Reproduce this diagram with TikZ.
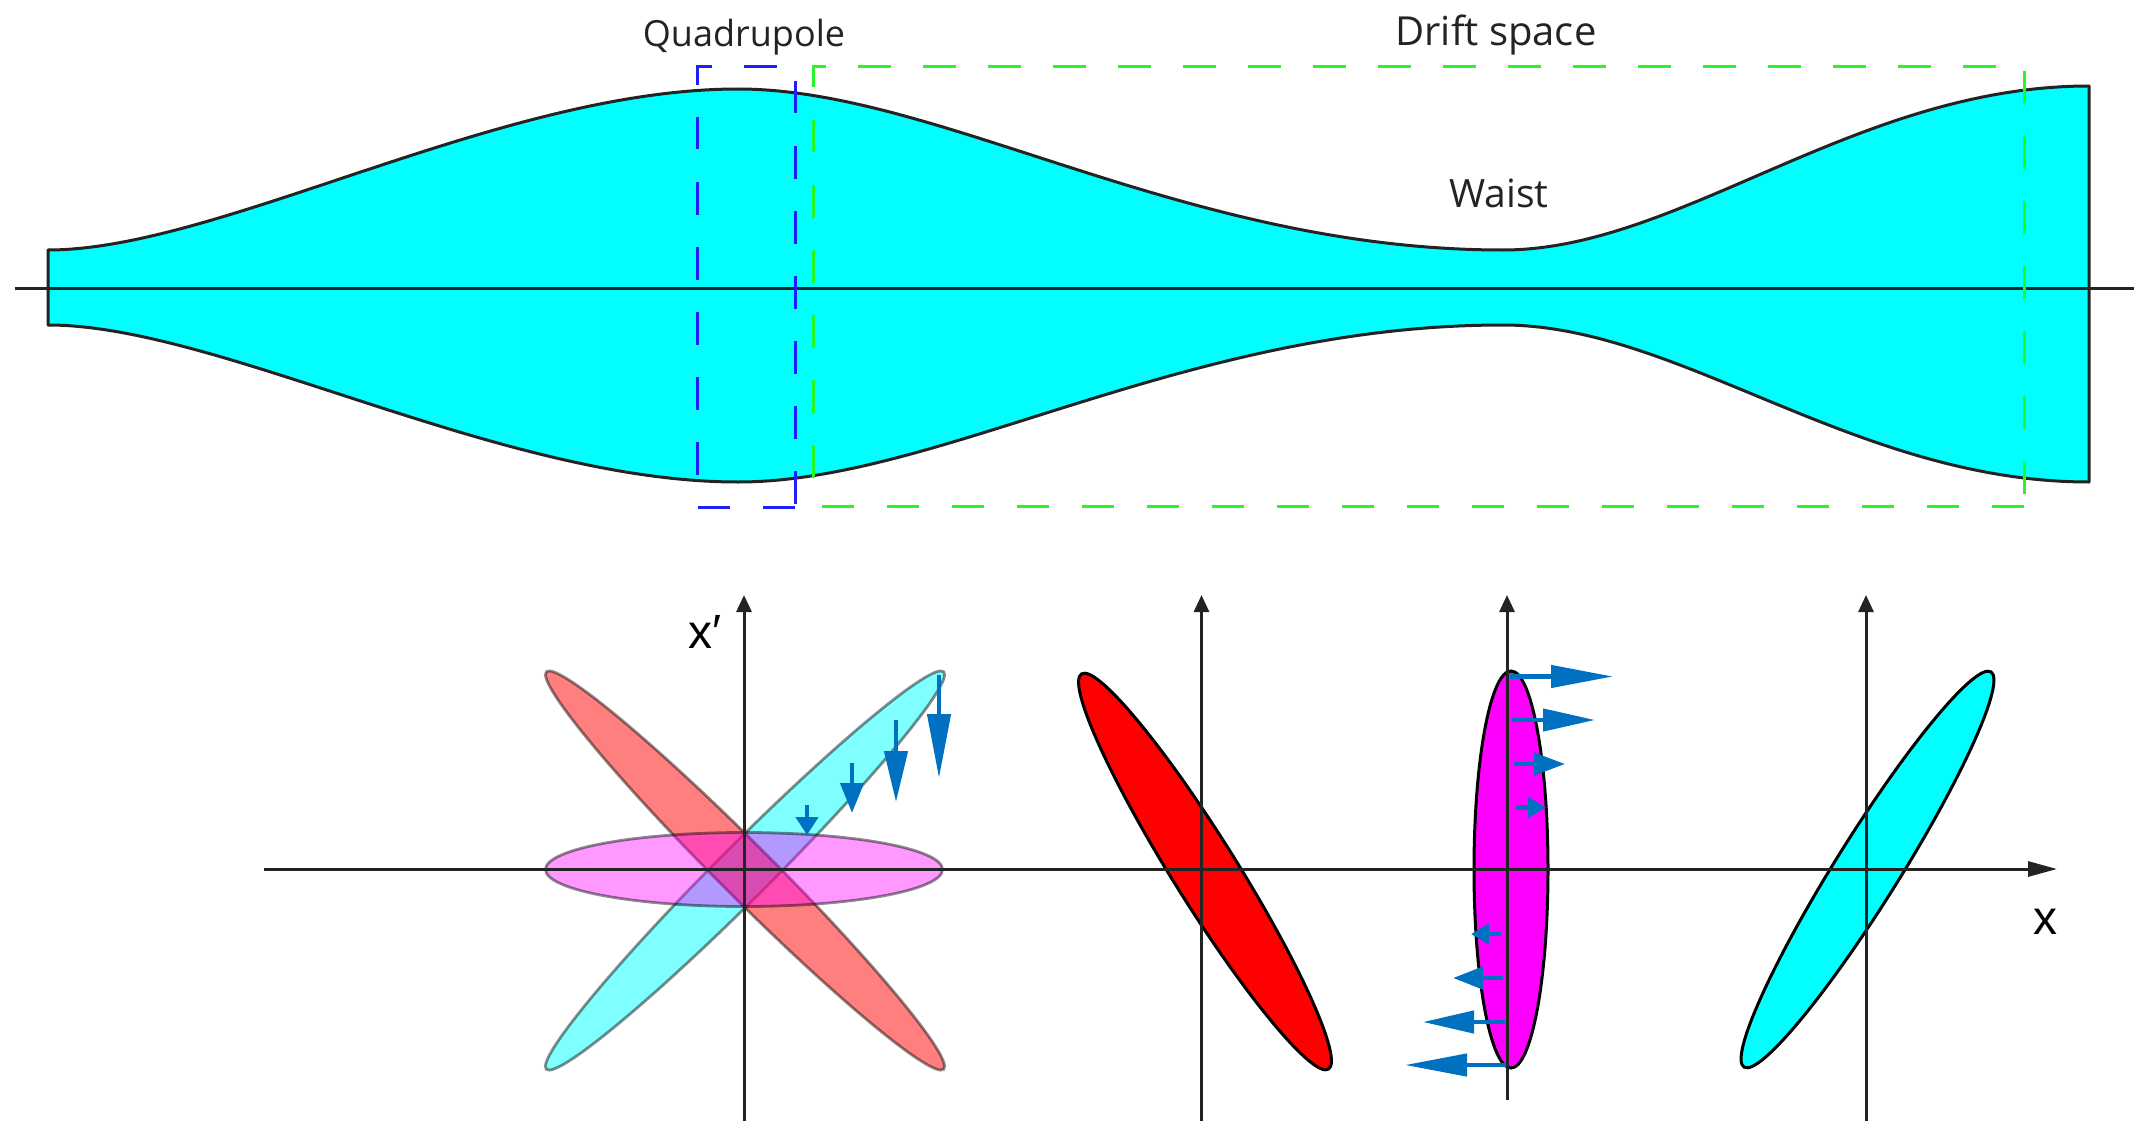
\documentclass[tikz,border=0pt]{standalone}
\usepackage{fontspec}
\setmainfont{Open Sans}
\newfontfamily\axisfont{Liberation Sans}
\usetikzlibrary{arrows.meta,shapes.geometric}
\definecolor{beamcyan}{RGB}{0,255,255}
\definecolor{puremagenta}{RGB}{255,0,255}
\definecolor{arrowblue}{RGB}{0,112,192}
\definecolor{quadblue}{RGB}{30,30,255}
\definecolor{driftgreen}{RGB}{40,245,40}
\definecolor{inkgrey}{RGB}{35,35,35}
\tikzset{
  x=1pt,y=-1pt,
  beam/.style={draw=inkgrey,line width=3pt,fill=beamcyan,line join=round},
  axisline/.style={draw=inkgrey,line width=3pt},
  upaxis/.style={axisline,-{Triangle[length=17pt,width=15pt]}},
  rightaxis/.style={axisline,-{Triangle[length=29pt,width=15pt]}},
  quadbox/.style={draw=quadblue,line width=3pt,dash pattern=on 32.5pt off 32.5pt},
  driftbox/.style={draw=driftgreen,line width=3pt,dash pattern=on 32.5pt off 32.5pt},
  ghost/.style={shape=ellipse,inner sep=0pt,minimum width=562pt,minimum height=53pt,fill=#1,fill opacity=0.5,draw=black,draw opacity=0.45,line width=2.8pt},
  ghostpink/.style={shape=ellipse,inner sep=0pt,minimum width=397pt,minimum height=74pt,fill=puremagenta,fill opacity=0.4,draw=black,draw opacity=0.45,line width=2.8pt},
  tiltell/.style={shape=ellipse,inner sep=0pt,minimum width=466pt,minimum height=64pt,fill=#1,draw=black,line width=3pt},
  uprightell/.style={shape=ellipse,inner sep=0pt,minimum width=74pt,minimum height=397pt,fill=#1,draw=black,line width=3pt},
  kick/.style n args={2}{draw=arrowblue,line width=4.4pt,-{Triangle[length=#1,width=#2]}},
  label/.style={text=inkgrey,inner sep=0pt,anchor=base},
  axlabel/.style={text=black,font=\axisfont\fontsize{48}{50}\selectfont,inner sep=0pt},
}
\begin{document}
\begin{tikzpicture}
\useasboundingbox (0,0) rectangle (2134,1121);
% beam envelope
\path[beam] (48,250) .. controls (220,250) and (500,89) .. (738,89)
  .. controls (940,89) and (1184,250) .. (1503,250)
  .. controls (1680,250) and (1856,86) .. (2089,86)
  -- (2089,482)
  .. controls (1856,482) and (1680,325) .. (1503,325)
  .. controls (1184,325) and (940,482) .. (738,482)
  .. controls (500,482) and (220,325) .. (48,325) -- cycle;
\coordinate (beamL) at (15,288);
\coordinate (beamR) at (2134,288);
\draw[axisline] (beamL) -- (beamR);
% section frames
\draw[quadbox] (697,85) -- (697,67) -- (795,67) -- (795,507);
\draw[quadbox] (795,507) -- (697,507);
\draw[quadbox] (697,117) -- (697,507);
\draw[driftbox] (813,87) -- (813,67) -- (2024,67) -- (2024,495);
\draw[driftbox] (2024,506) -- (813,506);
\draw[driftbox] (813,120) -- (813,506);
\node[label,font=\fontsize{36}{40}\selectfont] (quad) at (744,47) {Quadrupole};
\node[label,font=\fontsize{40}{44}\selectfont] (drift) at (1496,46) {Drift space};
\node[label,font=\fontsize{39}{42}\selectfont] (waist) at (1499,207) {Waist};
% ghost ellipses
\node[ghost=beamcyan,rotate=45] (cy1) at (745,870.5) {};
\node[ghost=red,rotate=-45] (rd1) at (745,870.5) {};
\node[ghostpink] (pk1) at (744,869.5) {};
% solid ellipses
\node[tiltell=red,rotate=-58] (rd2) at (1205,871.5) {};
\node[uprightell=puremagenta] (pk2) at (1511,869.5) {};
\node[tiltell=beamcyan,rotate=58] (cy2) at (1867.5,869.5) {};
% axes
\coordinate (xs) at (264,869); \coordinate (xe) at (2057,869);
\coordinate (a1b) at (744,1121); \coordinate (a1t) at (744,595);
\coordinate (a2b) at (1201.5,1121); \coordinate (a2t) at (1201.5,595);
\coordinate (a3b) at (1507,1100); \coordinate (a3t) at (1507,595);
\coordinate (a4b) at (1866,1121); \coordinate (a4t) at (1866,595);
\draw[rightaxis] (xs) -- (xe);
\draw[upaxis] (a1b) -- (a1t);
\draw[upaxis] (a2b) -- (a2t);
\draw[upaxis] (a3b) -- (a3t);
\draw[upaxis] (a4b) -- (a4t);
\node[axlabel,anchor=base west] (xp) at (688,648) {x′};
\node[axlabel] (xl) at (2045,922) {x};
% focusing kicks
\coordinate (k1a) at (939,675); \coordinate (k1b) at (939,778);
\coordinate (k2a) at (896,720); \coordinate (k2b) at (896,802);
\coordinate (k3a) at (852,763); \coordinate (k3b) at (852,813);
\coordinate (k4a) at (807,805); \coordinate (k4b) at (807,835);
\draw[kick={64pt}{23pt}] (k1a) -- (k1b);
\draw[kick={51pt}{23pt}] (k2a) -- (k2b);
\draw[kick={30pt}{23pt}] (k3a) -- (k3b);
\draw[kick={18pt}{22pt}] (k4a) -- (k4b);
\coordinate (m1a) at (1510,676.5); \coordinate (m1b) at (1613,676.5);
\coordinate (m2a) at (1512,720); \coordinate (m2b) at (1595,720);
\coordinate (m3a) at (1514,764); \coordinate (m3b) at (1565,764);
\coordinate (m4a) at (1516,807.5); \coordinate (m4b) at (1546,807.5);
\coordinate (m5a) at (1501,934); \coordinate (m5b) at (1471,934);
\coordinate (m6a) at (1503,978); \coordinate (m6b) at (1453,978);
\coordinate (m7a) at (1505,1022); \coordinate (m7b) at (1423,1022);
\coordinate (m8a) at (1506,1065); \coordinate (m8b) at (1405,1065);
\draw[kick={62pt}{22pt}] (m1a) -- (m1b);
\draw[kick={52pt}{22pt}] (m2a) -- (m2b);
\draw[kick={31pt}{22pt}] (m3a) -- (m3b);
\draw[kick={18pt}{20pt}] (m4a) -- (m4b);
\draw[kick={18pt}{20pt}] (m5a) -- (m5b);
\draw[kick={30pt}{22pt}] (m6a) -- (m6b);
\draw[kick={51pt}{22pt}] (m7a) -- (m7b);
\draw[kick={62pt}{22pt}] (m8a) -- (m8b);
\end{tikzpicture}
\end{document}
